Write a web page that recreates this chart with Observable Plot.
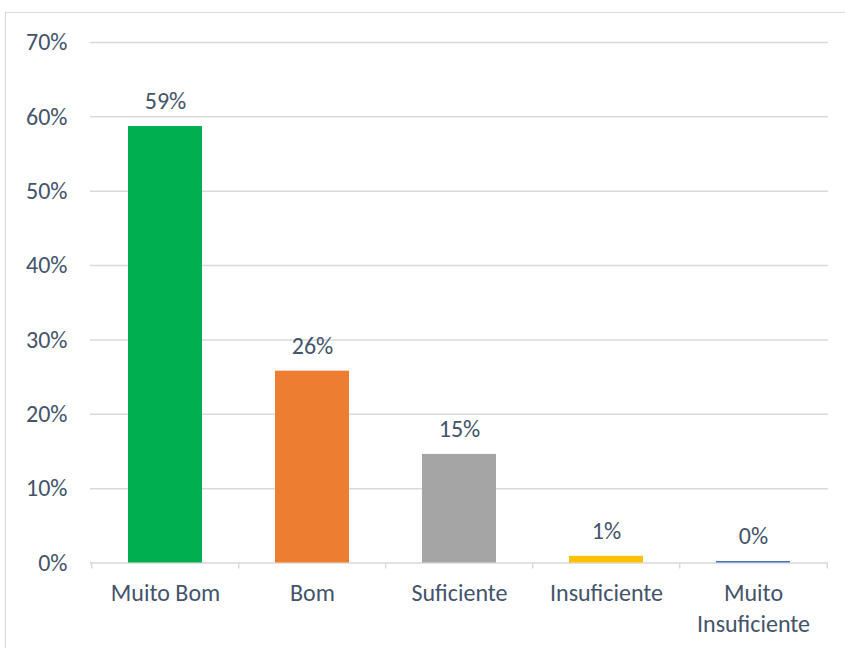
<!DOCTYPE html>
<html><head><meta charset="utf-8">
<script src="https://cdn.jsdelivr.net/npm/d3@7"></script>
<script src="https://cdn.jsdelivr.net/npm/@observablehq/plot@0.6"></script>
<style>
body{margin:0;background:#fff;}
#wrap{position:relative;width:845px;height:648px;overflow:hidden;}
#border{position:absolute;left:5px;top:12px;width:900px;height:700px;border:1px solid #D9D9D9;box-sizing:border-box;}
#chart{position:absolute;left:0;top:0;}
</style></head>
<body><div id="wrap"><div id="border"></div><div id="chart"></div></div>
<script>
const categories = ["Muito Bom","Bom","Suficiente","Insuficiente","Muito Insuficiente"];
const tickLabels = ["Muito Bom","Bom","Suficiente","Insuficiente","Muito\nInsuficiente"];
const values = [0.587, 0.258, 0.146, 0.009, 0.002];
const labels = ["59%","26%","15%","1%","0%"];
const colors = ["#00B050","#ED7D31","#A5A5A5","#FFC000","#4472C4"];
const yTicks = [0,0.1,0.2,0.3,0.4,0.5,0.6,0.7];

const data = categories.map((c,i)=>({cat:c, v:values[i], label:labels[i], color:colors[i]}));
const W=845, H=648, ML=90, MR=17;
const step = (W-ML-MR)/categories.length;
const font = "Carlito, Calibri, Lato, sans-serif";
const txt = "#44546A";
const FS = 24;

const chart = Plot.plot({
  width:W, height:H,
  marginLeft:ML, marginRight:MR, marginTop:42, marginBottom:85.5,
  style:{fontFamily:font, fontSize:FS+"px", color:txt, background:"transparent"},
  x:{domain:categories, paddingInner:0.5, paddingOuter:0.25, label:null},
  y:{domain:[0,0.7], label:null},
  marks:[
    Plot.ruleY(yTicks,{stroke:"#D9D9D9", strokeWidth:1.5}),
    Plot.barY(data,{x:"cat", y:"v", fill:"color"}),
    Plot.ruleX(categories,{x:d=>d, dx:-step/2, y1:0, y2:0, stroke:"#D9D9D9", strokeWidth:1.5, insetBottom:-6}),
    Plot.ruleX([categories[categories.length-1]],{x:d=>d, dx:step/2, y1:0, y2:0, stroke:"#D9D9D9", strokeWidth:1.5, insetBottom:-6}),
    Plot.text(data,{x:"cat", y:"v", text:"label", dy:-25, fill:txt, fontSize:FS, lineAnchor:"middle"}),
    Plot.axisY({ticks:yTicks, tickFormat:d=>Math.round(d*100)+"%", tickSize:0, tickPadding:23, fontSize:FS, fill:txt}),
    Plot.axisX({tickSize:0, tickPadding:16.5, fontSize:FS, fill:txt, lineHeight:1.29, tickFormat:(d,i)=>tickLabels[categories.indexOf(d)]})
  ]
});
document.getElementById("chart").appendChild(chart);
</script></body></html>
